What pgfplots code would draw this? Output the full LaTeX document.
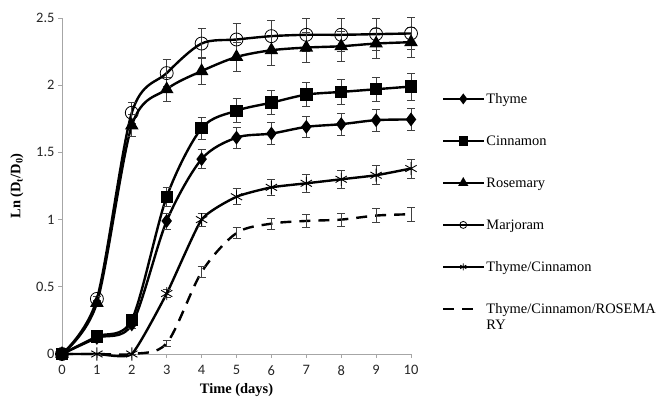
\documentclass[border=0pt]{standalone}
\usepackage{pgfplots}
\pgfplotsset{compat=1.18}
\usepackage{pgfplotstable}
\usepackage{fontspec}
\setmainfont{Liberation Serif}
\newfontfamily\calibri{Carlito}

\pgfplotstableread{
x y e
0 0 0
1 0.12 0.02
2 0.22 0.03
3 0.99 0.06
4 1.45 0.07
5 1.61 0.08
6 1.64 0.08
7 1.69 0.08
8 1.71 0.08
9 1.74 0.08
10 1.745 0.08
}\thyme
\pgfplotstableread{
x y e
0 0 0
1 0.13 0.02
2 0.255 0.03
3 1.17 0.07
4 1.68 0.08
5 1.81 0.09
6 1.87 0.09
7 1.93 0.09
8 1.95 0.09
9 1.97 0.09
10 1.99 0.10
}\cinnamon
\pgfplotstableread{
x y e
0 0 0
1 0.38 0.02
2 1.70 0.08
3 1.97 0.09
4 2.105 0.10
5 2.21 0.11
6 2.26 0.11
7 2.28 0.11
8 2.29 0.11
9 2.31 0.11
10 2.32 0.11
}\rosemary
\pgfplotstableread{
x y e
0 0 0
1 0.41 0.02
2 1.795 0.08
3 2.09 0.10
4 2.31 0.11
5 2.34 0.12
6 2.365 0.12
7 2.375 0.12
8 2.375 0.12
9 2.38 0.12
10 2.385 0.12
}\marjoram
\pgfplotstableread{
x y e
0 0 0
1 0 0
2 0 0
3 0.45 0.03
4 1.0 0.05
5 1.17 0.06
6 1.24 0.06
7 1.27 0.07
8 1.30 0.07
9 1.33 0.07
10 1.38 0.07
}\thycin
\pgfplotstableread{
x y e
0 0 0
1 0 0
2 0 0
3 0.08 0.02
4 0.61 0.04
5 0.90 0.04
6 0.97 0.04
7 0.99 0.05
8 1.00 0.05
9 1.03 0.05
10 1.04 0.05
}\tcr

\newcommand{\lstr}{\rule[-5bp]{0pt}{18bp}}

\begin{document}
\begin{tikzpicture}
\useasboundingbox (0,0) rectangle (660bp,399bp);
\begin{axis}[
  at={(62bp,45bp)}, anchor=south west,
  scale only axis, width=349bp, height=336bp,
  xmin=0, xmax=10, ymin=0, ymax=2.5,
  xtick={0,1,...,10}, ytick={0,0.5,1,1.5,2,2.5},
  yticklabels={0,0.5,1,1.5,2,2.5},
  axis x line*=bottom, axis y line*=left,
  axis line style={color=black!35, line width=0.8bp},
  tick style={color=black!35, line width=0.8bp},
  tick align=outside, major tick length=4bp,
  /pgf/number format/assume math mode=true,
  tick label style={font=\calibri\fontsize{14.5}{17}\selectfont, color=black!85},
  xticklabel style={yshift=-4bp},
  label style={font=\bfseries\fontsize{14.5}{17}\selectfont},
  xlabel={Time (days)},
  ylabel={Ln (D\textsubscript{t}/D\textsubscript{0})},
  xlabel style={at={(axis description cs:0.5,-0.107)}, anchor=center},
  ylabel style={at={(axis description cs:-0.129,0.5)}, anchor=center},
  clip=false,
  legend image code/.code={\draw[mark repeat=2,mark phase=2,mark size=3.5bp] plot coordinates {(0bp,5bp)(20bp,5bp)(40bp,5bp)};},
  legend style={at={(axis description cs:1.089,0.783)}, anchor=north west,
    draw=none, fill=none, inner sep=0pt, outer sep=0pt, row sep=24bp,
    font=\fontsize{14.5}{15}\selectfont,
    cells={anchor=base west},
    nodes={inner sep=0pt, text depth=},
    /tikz/every odd column/.style={column sep=2bp}},
  every axis plot/.append style={line width=2.4bp, black, smooth, tension=0.5},
  error bars/y dir=both, error bars/y explicit,
  error bars/error bar style={line width=0.7bp, black!75, solid},
  error bars/error mark options={rotate=90, mark size=4bp, line width=0.7bp, black!75, solid},
]
\addplot[mark=diamond*, mark size=5bp, mark options={solid}] table[x=x,y=y,y error=e]{\thyme};
\addlegendentry{\lstr Thyme}
\addplot[mark=square*, mark size=5bp, mark options={solid}] table[x=x,y=y,y error=e]{\cinnamon};
\addlegendentry{\lstr Cinnamon}
\addplot[mark=triangle*, mark size=5.5bp, mark options={solid}] table[x=x,y=y,y error=e]{\rosemary};
\addlegendentry{\lstr Rosemary}
\addplot[mark=o, mark size=6.5bp, mark options={solid, line width=0.8bp}] table[x=x,y=y,y error=e]{\marjoram};
\addlegendentry{\lstr Marjoram}
\addplot[mark=asterisk, mark size=6.5bp, tension=0.3, mark options={solid, line width=0.9bp}] table[x=x,y=y,y error=e]{\thycin};
\addlegendentry{\lstr Thyme/Cinnamon}
\addplot[no marks, dash pattern=on 11bp off 8bp,
  legend image code/.code={\draw[dash pattern=on 11bp off 8bp] (0bp,5bp) -- (30bp,5bp);}] table[x=x,y=y,y error=e]{\tcr};
\addlegendentry{\begin{tabular}[t]{@{}l@{}}\lstr Thyme/Cinnamon/ROSEMA\\RY\end{tabular}}
\end{axis}
\end{tikzpicture}
\end{document}
